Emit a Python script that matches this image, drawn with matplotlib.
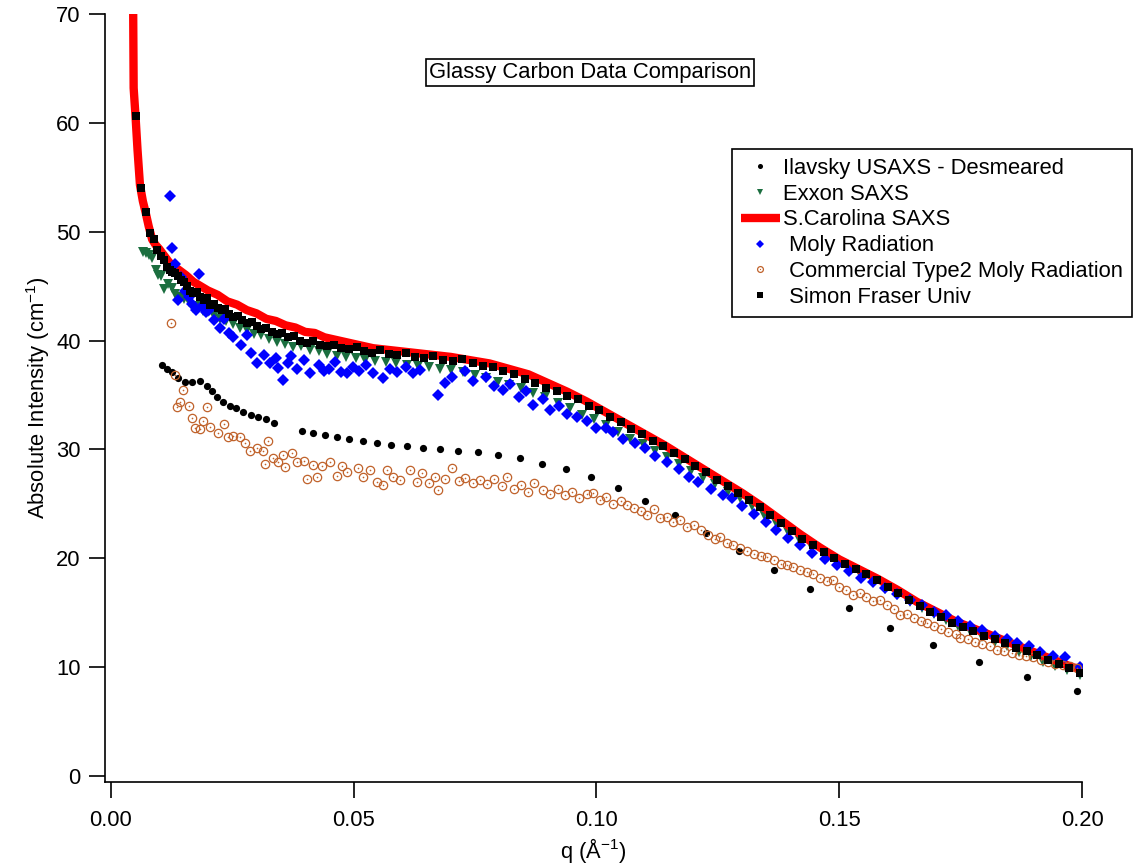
"""Glassy carbon SAXS data comparison"""
import matplotlib
matplotlib.use('Agg')
import matplotlib.pyplot as plt
from matplotlib.legend_handler import HandlerTuple

plt.rcParams['font.family'] = ['Liberation Sans', 'DejaVu Sans']
plt.rcParams['mathtext.fontset'] = 'custom'
plt.rcParams['mathtext.rm'] = 'Liberation Sans'
plt.rcParams['mathtext.default'] = 'regular'

FS = 15.8

# ---- data (q in 1/A, intensity in 1/cm) ----
ilavsky_q = [0.0105, 0.0115, 0.0126, 0.0138, 0.0152, 0.0167, 0.0183, 0.0198, 0.0208, 0.0218,
             0.0231, 0.0245, 0.0258, 0.0272, 0.0288, 0.0303, 0.0319, 0.0336, 0.0393, 0.0416,
             0.0441, 0.0466, 0.0490, 0.0519, 0.0548, 0.0577, 0.0610, 0.0643, 0.0678, 0.0715,
             0.0756, 0.0797, 0.0842, 0.0888, 0.0937, 0.0989, 0.1044, 0.1100, 0.1162, 0.1226,
             0.1294, 0.1366, 0.1440, 0.1520, 0.1605, 0.1693, 0.1788, 0.1887, 0.1990]
ilavsky_I = [37.8, 37.4, 37.1, 36.6, 36.2, 36.2, 36.3, 35.8, 35.4, 34.8,
             34.4, 34.0, 33.8, 33.4, 33.2, 33.0, 32.8, 32.4, 31.7, 31.5,
             31.3, 31.1, 31.0, 30.8, 30.6, 30.4, 30.3, 30.1, 30.0, 29.9,
             29.8, 29.5, 29.2, 28.7, 28.2, 27.5, 26.5, 25.3, 24.0, 22.3,
             20.7, 18.9, 17.2, 15.4, 13.6, 12.0, 10.5, 9.1, 7.8]

exxon_q = [0.0066, 0.0072, 0.0078, 0.0084, 0.0092, 0.0098, 0.0104, 0.0110, 0.0117, 0.0125,
           0.0133, 0.0141, 0.0150, 0.0160, 0.0170, 0.0180, 0.0190, 0.0200, 0.0212, 0.0225,
           0.0238, 0.0252, 0.0266, 0.0280, 0.0295, 0.0310, 0.0326, 0.0342, 0.0358, 0.0375,
           0.0392, 0.0410, 0.0428, 0.0446, 0.0465, 0.0484, 0.0504, 0.0524, 0.0545, 0.0566,
           0.0588, 0.0610, 0.0632, 0.0655, 0.0678, 0.0701, 0.0725, 0.0749, 0.0773, 0.0797,
           0.0821, 0.0845, 0.0870, 0.0895, 0.0920, 0.0945, 0.0970, 0.0995, 0.1020, 0.1045,
           0.1070, 0.1095, 0.1120, 0.1145, 0.1170, 0.1195, 0.1220, 0.1245, 0.1270, 0.1295,
           0.1320, 0.1345, 0.1370, 0.1395, 0.1420, 0.1445, 0.1470, 0.1495, 0.1520, 0.1545,
           0.1570, 0.1595, 0.1620, 0.1645, 0.1670, 0.1695, 0.1720, 0.1745, 0.1770, 0.1795,
           0.1820, 0.1845, 0.1870, 0.1895, 0.1920, 0.1945, 0.1970, 0.1995]
exxon_I = [48.1, 48.0, 47.9, 47.6, 46.5, 46.0, 45.9, 44.7, 45.2, 44.8,
           44.3, 44.0, 43.8, 43.5, 43.0, 43.2, 42.7, 42.6, 42.3, 42.0,
           41.8, 41.5, 41.2, 41.0, 40.6, 40.5, 40.1, 39.9, 39.7, 39.4,
           39.5, 39.1, 39.0, 38.8, 38.6, 38.5, 38.4, 38.2, 38.1, 38.0,
           37.9, 37.8, 37.7, 37.6, 37.4, 37.3, 37.1, 36.8, 36.6, 36.2,
           35.9, 35.6, 35.2, 34.8, 34.3, 33.8, 33.2, 32.8, 32.2, 31.6,
           31.0, 30.5, 29.9, 29.3, 28.7, 28.0, 27.4, 26.8, 26.1, 25.5,
           24.8, 24.0, 23.2, 22.4, 21.6, 20.9, 20.2, 19.6, 19.0, 18.4,
           17.8, 17.2, 16.6, 16.0, 15.4, 14.9, 14.3, 13.8, 13.3, 12.8,
           12.3, 11.9, 11.4, 11.0, 10.5, 10.1, 9.7, 9.3]

carolina_q = [0.0045, 0.0047, 0.0051, 0.0055, 0.0060, 0.0066, 0.0072, 0.0078, 0.0085, 0.0092,
              0.0100, 0.0110, 0.0120, 0.0130, 0.0140, 0.0155, 0.0170, 0.0185, 0.0200, 0.0220,
              0.0240, 0.0260, 0.0280, 0.0300, 0.0320, 0.0340, 0.0360, 0.0380, 0.0400, 0.0420,
              0.0440, 0.0460, 0.0480, 0.0500, 0.0540, 0.0580, 0.0620, 0.0660, 0.0700, 0.0740,
              0.0780, 0.0820, 0.0860, 0.0900, 0.0940, 0.0980, 0.1020, 0.1060, 0.1100, 0.1140,
              0.1180, 0.1220, 0.1260, 0.1300, 0.1340, 0.1380, 0.1420, 0.1460, 0.1500, 0.1540,
              0.1580, 0.1620, 0.1660, 0.1700, 0.1740, 0.1780, 0.1820, 0.1860, 0.1900, 0.1940,
              0.1980, 0.2000]
carolina_I = [78.0, 63.2, 60.5, 57.5, 54.3, 52.8, 51.7, 50.5, 49.3, 48.8,
              48.4, 47.8, 47.2, 46.8, 46.5, 46.0, 45.4, 45.0, 44.6, 44.2,
              43.6, 43.3, 42.8, 42.5, 42.0, 41.8, 41.4, 41.2, 40.8, 40.7,
              40.3, 40.1, 39.9, 39.7, 39.3, 39.1, 38.9, 38.7, 38.5, 38.2,
              37.9, 37.4, 36.9, 36.1, 35.3, 34.4, 33.4, 32.4, 31.4, 30.4,
              29.3, 28.2, 27.1, 26.0, 24.8, 23.5, 22.2, 21.0, 19.9, 19.0,
              18.1, 17.1, 16.0, 15.1, 14.2, 13.5, 12.8, 12.1, 11.4, 10.7,
              10.0, 9.8]

moly_q = [0.0122, 0.0126, 0.0132, 0.0138, 0.0145, 0.0152, 0.0160, 0.0168, 0.0175, 0.0181,
          0.0188, 0.0195, 0.0203, 0.0212, 0.0225, 0.0233, 0.0244, 0.0252, 0.0268, 0.0280,
          0.0289, 0.0302, 0.0315, 0.0328, 0.0340, 0.0345, 0.0355, 0.0365, 0.0372, 0.0384,
          0.0398, 0.0411, 0.0428, 0.0438, 0.0450, 0.0462, 0.0475, 0.0486, 0.0498, 0.0512,
          0.0525, 0.0540, 0.0560, 0.0575, 0.0590, 0.0608, 0.0622, 0.0637, 0.0674, 0.0688,
          0.0702, 0.0730, 0.0745, 0.0772, 0.0790, 0.0807, 0.0822, 0.0840, 0.0855, 0.0870,
          0.0890, 0.0905, 0.0922, 0.0940, 0.0960, 0.0980, 0.1000, 0.1020, 0.1035, 0.1055,
          0.1080, 0.1100, 0.1120, 0.1145, 0.1170, 0.1190, 0.1210, 0.1235, 0.1260, 0.1280,
          0.1300, 0.1325, 0.1350, 0.1370, 0.1395, 0.1420, 0.1445, 0.1470, 0.1495, 0.1520,
          0.1545, 0.1570, 0.1595, 0.1620, 0.1645, 0.1670, 0.1695, 0.1720, 0.1745, 0.1770,
          0.1795, 0.1820, 0.1845, 0.1866, 0.1890, 0.1914, 0.1940, 0.1966, 0.1996]
moly_I = [53.3, 48.5, 47.0, 43.7, 45.8, 44.6, 44.0, 43.4, 42.8, 46.1,
          43.2, 42.6, 42.8, 41.9, 41.2, 42.0, 40.7, 40.3, 39.6, 40.5,
          38.9, 37.9, 38.7, 37.9, 38.4, 37.5, 36.4, 37.9, 38.6, 37.4,
          38.2, 37.0, 37.8, 37.2, 37.4, 38.0, 37.1, 37.0, 37.6, 37.2,
          37.8, 37.0, 36.6, 37.4, 37.1, 37.6, 37.0, 37.3, 35.0, 36.1,
          36.7, 37.2, 36.3, 36.7, 35.8, 35.5, 36.0, 34.8, 35.4, 34.1,
          34.6, 33.6, 34.0, 33.3, 33.0, 32.6, 32.0, 32.0, 31.6, 31.0,
          30.6, 30.1, 29.4, 28.8, 28.2, 27.5, 27.0, 26.4, 25.8, 25.5,
          24.8, 24.1, 23.3, 22.6, 21.9, 21.2, 20.5, 19.9, 19.4, 18.8,
          18.2, 17.8, 17.3, 16.7, 16.2, 15.7, 15.1, 14.8, 14.2, 13.8,
          13.4, 12.9, 12.6, 12.2, 11.9, 11.4, 11.0, 10.9, 10.0]

commercial_q = [0.0124, 0.0132, 0.0136, 0.0142, 0.0148, 0.0161, 0.0167, 0.0173, 0.0183, 0.0189,
                0.0198, 0.0204, 0.0220, 0.0233, 0.0241, 0.0251, 0.0266, 0.0276, 0.0286, 0.0300,
                0.0313, 0.0317, 0.0323, 0.0334, 0.0344, 0.0354, 0.0358, 0.0373, 0.0383, 0.0397,
                0.0404, 0.0416, 0.0424, 0.0435, 0.0451, 0.0465, 0.0476, 0.0486, 0.0509, 0.0519,
                0.0533, 0.0548, 0.0560, 0.0568, 0.0581, 0.0596, 0.0616, 0.0630, 0.0640, 0.0655,
                0.0667, 0.0674, 0.0688, 0.0702, 0.0716, 0.0730, 0.0745, 0.0760, 0.0775, 0.0790,
                0.0805, 0.0816, 0.0830, 0.0845, 0.0860, 0.0872, 0.0890, 0.0905, 0.0920, 0.0935,
                0.0950, 0.0965, 0.0980, 0.0993, 0.1008, 0.1020, 0.1035, 0.1050, 0.1063, 0.1078,
                0.1092, 0.1104, 0.1118, 0.1130, 0.1145, 0.1158, 0.1172, 0.1186, 0.1200, 0.1215,
                0.1230, 0.1245, 0.1254, 0.1268, 0.1282, 0.1296, 0.1310, 0.1324, 0.1338, 0.1351,
                0.1365, 0.1380, 0.1393, 0.1405, 0.1420, 0.1433, 0.1446, 0.1460, 0.1475, 0.1487,
                0.1500, 0.1514, 0.1528, 0.1542, 0.1556, 0.1570, 0.1584, 0.1598, 0.1612, 0.1625,
                0.1640, 0.1654, 0.1668, 0.1680, 0.1695, 0.1710, 0.1725, 0.1740, 0.1749, 0.1765,
                0.1780, 0.1795, 0.1810, 0.1825, 0.1840, 0.1855, 0.1870, 0.1885, 0.1900, 0.1915,
                0.1930, 0.1945, 0.1960, 0.1975, 0.1990]
commercial_I = [41.6, 36.8, 33.9, 34.4, 35.5, 34.0, 32.9, 32.0, 31.9, 32.6,
                33.9, 32.1, 31.5, 32.3, 31.1, 31.2, 31.1, 30.6, 29.9, 30.1,
                29.9, 28.7, 30.8, 29.2, 28.8, 29.5, 28.4, 29.7, 28.8, 28.9,
                27.3, 28.6, 27.5, 28.5, 28.8, 27.6, 28.5, 27.9, 28.3, 27.5,
                28.1, 27.0, 26.7, 28.1, 27.5, 27.2, 28.1, 27.0, 27.8, 26.9,
                27.5, 26.3, 27.3, 28.3, 27.1, 27.4, 26.9, 27.2, 26.8, 27.3,
                26.6, 27.5, 26.4, 26.7, 26.1, 26.9, 26.3, 25.9, 26.4, 25.8,
                26.1, 25.5, 25.9, 26.0, 25.4, 25.6, 25.0, 25.3, 24.9, 24.6,
                24.3, 24.0, 24.5, 23.7, 23.8, 23.3, 23.5, 22.9, 23.1, 22.6,
                22.1, 21.8, 22.0, 21.4, 21.2, 20.9, 20.7, 20.4, 20.2, 20.1,
                19.8, 19.5, 19.4, 19.2, 18.9, 18.7, 18.6, 18.2, 17.9, 18.0,
                17.4, 17.1, 16.6, 16.8, 16.4, 16.1, 16.2, 15.7, 15.3, 14.8,
                14.9, 14.5, 14.2, 14.1, 13.8, 13.5, 13.2, 13.0, 12.7, 12.6,
                12.3, 12.1, 11.9, 11.6, 11.5, 11.3, 11.1, 11.0, 10.9, 10.7,
                10.5, 10.3, 10.2, 10.1, 9.9]

fraser_q = [0.0051, 0.0063, 0.0072, 0.0080, 0.0089, 0.0096, 0.0103, 0.0109, 0.0115, 0.0121,
            0.0127, 0.0133, 0.0139, 0.0145, 0.0151, 0.0157, 0.0163, 0.0170, 0.0177, 0.0184,
            0.0191, 0.0198, 0.0205, 0.0212, 0.0220, 0.0228, 0.0236, 0.0244, 0.0252, 0.0261,
            0.0270, 0.0280, 0.0290, 0.0300, 0.0310, 0.0320, 0.0331, 0.0342, 0.0353, 0.0365,
            0.0377, 0.0390, 0.0403, 0.0416, 0.0430, 0.0445, 0.0460, 0.0475, 0.0490, 0.0506,
            0.0522, 0.0538, 0.0555, 0.0572, 0.0590, 0.0608, 0.0626, 0.0645, 0.0664, 0.0684,
            0.0704, 0.0724, 0.0745, 0.0766, 0.0787, 0.0808, 0.0830, 0.0852, 0.0874, 0.0896,
            0.0918, 0.0940, 0.0962, 0.0984, 0.1006, 0.1028, 0.1050, 0.1072, 0.1094, 0.1116,
            0.1138, 0.1160, 0.1182, 0.1204, 0.1226, 0.1248, 0.1270, 0.1292, 0.1314, 0.1336,
            0.1358, 0.1380, 0.1402, 0.1424, 0.1446, 0.1468, 0.1490, 0.1512, 0.1534, 0.1556,
            0.1578, 0.1600, 0.1622, 0.1644, 0.1666, 0.1688, 0.1710, 0.1732, 0.1754, 0.1776,
            0.1798, 0.1820, 0.1842, 0.1864, 0.1886, 0.1908, 0.1930, 0.1952, 0.1974, 0.1996]
fraser_I = [60.6, 54.0, 51.8, 49.9, 49.3, 48.3, 47.8, 47.4, 46.8, 46.5,
            46.3, 46.2, 45.9, 45.6, 45.4, 45.0, 44.6, 44.4, 44.5, 44.0,
            43.7, 43.9, 43.3, 43.4, 43.0, 42.8, 42.9, 42.4, 42.2, 42.3,
            41.9, 41.6, 41.7, 41.3, 41.1, 41.2, 40.8, 40.6, 40.7, 40.3,
            40.4, 40.0, 39.8, 40.0, 39.6, 39.5, 39.6, 39.3, 39.2, 39.4,
            39.0, 38.9, 39.1, 38.8, 38.7, 38.9, 38.5, 38.4, 38.6, 38.2,
            38.1, 38.3, 37.9, 37.7, 37.6, 37.2, 36.9, 36.5, 36.1, 35.6,
            35.4, 34.9, 34.6, 34.0, 33.6, 33.0, 32.5, 31.9, 31.4, 30.8,
            30.3, 29.7, 29.1, 28.5, 27.9, 27.2, 26.6, 26.0, 25.4, 24.7,
            24.0, 23.2, 22.5, 21.8, 21.2, 20.6, 20.0, 19.5, 19.0, 18.6,
            18.0, 17.4, 16.8, 16.2, 15.6, 15.1, 14.6, 14.1, 13.7, 13.3,
            12.9, 12.6, 12.2, 11.8, 11.5, 11.1, 10.7, 10.3, 9.9, 9.5]

brown = '#c0622b'
green = '#1b6e3f'

fig = plt.figure(figsize=(11.33, 8.64), dpi=100)
ax = fig.add_axes([105 / 1133, 1 - 782 / 864, 977 / 1133, 768 / 864])

h1, = ax.plot(ilavsky_q, ilavsky_I, 'o', color='black', ms=5.2, mew=0, zorder=2)
h2, = ax.plot(exxon_q, exxon_I, 'v', color=green, ms=6.5, mew=0, zorder=3)
h3, = ax.plot(carolina_q, carolina_I, '-', color='#ff0000', lw=6, zorder=4,
              solid_capstyle='butt')
h4, = ax.plot(moly_q, moly_I, 'D', color='#0000ff', ms=6.3, mew=0, zorder=5)
h5a, = ax.plot(commercial_q, commercial_I, 'o', mfc='none', mec=brown, ms=6, mew=0.9, zorder=6)
h5b, = ax.plot(commercial_q, commercial_I, 'o', color=brown, ms=1.2, mew=0, zorder=6)
h6, = ax.plot(fraser_q, fraser_I, 's', color='black', ms=6.3, mew=0, zorder=7)

ax.set_xlim(-0.0012, 0.2)
ax.set_ylim(-0.55, 70)
ax.set_xticks([0.0, 0.05, 0.10, 0.15, 0.20])
ax.set_xticklabels(['0.00', '0.05', '0.10', '0.15', '0.20'])
ax.set_yticks(range(0, 71, 10))

for side in ['top', 'right']:
    ax.spines[side].set_visible(False)
for side in ['left', 'bottom']:
    ax.spines[side].set_linewidth(1.2)
ax.tick_params(direction='out', length=11.5, width=1.2, labelsize=FS)
ax.tick_params(axis='x', pad=9)
ax.tick_params(axis='y', pad=6)

ax.set_xlabel('q (Å$^{-1}$)', fontsize=FS, labelpad=3)
ax.set_ylabel('Absolute Intensity (cm$^{-1}$)', fontsize=FS, labelpad=3)

fig.text(590 / 1133, 1 - 72.5 / 864, 'Glassy Carbon Data Comparison', fontsize=FS,
         ha='center', va='center',
         bbox=dict(boxstyle='square,pad=0.15', facecolor='white', edgecolor='black', linewidth=1.2))

handles = [h1, h2, h3, h4, (h5a, h5b), h6]
labels = ['Ilavsky USAXS - Desmeared', 'Exxon SAXS', 'S.Carolina SAXS',
          ' Moly Radiation', ' Commercial Type2 Moly Radiation', ' Simon Fraser Univ']
leg = fig.legend(handles, labels, loc='upper right', bbox_to_anchor=(1132 / 1133, 1 - 149 / 864),
                 bbox_transform=fig.transFigure, fontsize=FS, frameon=True, fancybox=False,
                 framealpha=1, edgecolor='black', borderpad=0.4, labelspacing=0.22,
                 handlelength=1.8, handletextpad=0.15, borderaxespad=0, markerscale=0.7,
                 handler_map={tuple: HandlerTuple(ndivide=1, pad=0)})
leg.get_frame().set_linewidth(1.2)

fig.savefig('out.png', dpi=100, facecolor='white')
